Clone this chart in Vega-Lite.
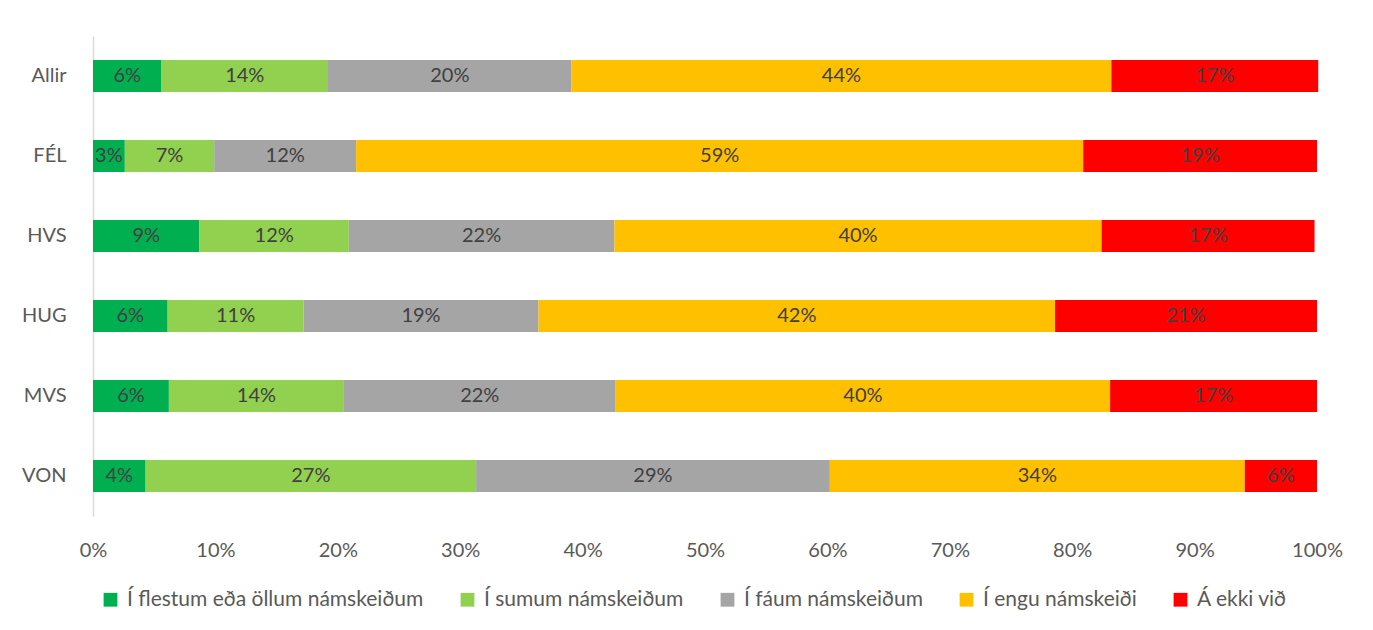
{
  "$schema": "https://vega.github.io/schema/vega-lite/v6.json",
  "width": 1224,
  "height": 480,
  "autosize": {"type": "none"},
  "padding": {"left": 93, "top": 36, "right": 56, "bottom": 114},
  "background": "white",
  "config": {
    "font": "Lato",
    "view": {"stroke": null}
  },
  "data": {
    "values": [
      {"group": "Allir", "cat": "Í flestum eða öllum námskeiðum", "k": 1, "v": 0.056},
      {"group": "Allir", "cat": "Í sumum námskeiðum", "k": 2, "v": 0.136},
      {"group": "Allir", "cat": "Í fáum námskeiðum", "k": 3, "v": 0.199},
      {"group": "Allir", "cat": "Í engu námskeiði", "k": 4, "v": 0.441},
      {"group": "Allir", "cat": "Á ekki við", "k": 5, "v": 0.169},
      {"group": "FÉL", "cat": "Í flestum eða öllum námskeiðum", "k": 1, "v": 0.026},
      {"group": "FÉL", "cat": "Í sumum námskeiðum", "k": 2, "v": 0.073},
      {"group": "FÉL", "cat": "Í fáum námskeiðum", "k": 3, "v": 0.116},
      {"group": "FÉL", "cat": "Í engu námskeiði", "k": 4, "v": 0.594},
      {"group": "FÉL", "cat": "Á ekki við", "k": 5, "v": 0.191},
      {"group": "HVS", "cat": "Í flestum eða öllum námskeiðum", "k": 1, "v": 0.087},
      {"group": "HVS", "cat": "Í sumum námskeiðum", "k": 2, "v": 0.122},
      {"group": "HVS", "cat": "Í fáum námskeiðum", "k": 3, "v": 0.217},
      {"group": "HVS", "cat": "Í engu námskeiði", "k": 4, "v": 0.398},
      {"group": "HVS", "cat": "Á ekki við", "k": 5, "v": 0.174},
      {"group": "HUG", "cat": "Í flestum eða öllum námskeiðum", "k": 1, "v": 0.061},
      {"group": "HUG", "cat": "Í sumum námskeiðum", "k": 2, "v": 0.111},
      {"group": "HUG", "cat": "Í fáum námskeiðum", "k": 3, "v": 0.192},
      {"group": "HUG", "cat": "Í engu námskeiði", "k": 4, "v": 0.422},
      {"group": "HUG", "cat": "Á ekki við", "k": 5, "v": 0.214},
      {"group": "MVS", "cat": "Í flestum eða öllum námskeiðum", "k": 1, "v": 0.062},
      {"group": "MVS", "cat": "Í sumum námskeiðum", "k": 2, "v": 0.143},
      {"group": "MVS", "cat": "Í fáum námskeiðum", "k": 3, "v": 0.222},
      {"group": "MVS", "cat": "Í engu námskeiði", "k": 4, "v": 0.404},
      {"group": "MVS", "cat": "Á ekki við", "k": 5, "v": 0.169},
      {"group": "VON", "cat": "Í flestum eða öllum námskeiðum", "k": 1, "v": 0.043},
      {"group": "VON", "cat": "Í sumum námskeiðum", "k": 2, "v": 0.270},
      {"group": "VON", "cat": "Í fáum námskeiðum", "k": 3, "v": 0.289},
      {"group": "VON", "cat": "Í engu námskeiði", "k": 4, "v": 0.339},
      {"group": "VON", "cat": "Á ekki við", "k": 5, "v": 0.059}
    ]
  },
  "transform": [
    {"stack": "v", "groupby": ["group"], "sort": [{"field": "k"}], "as": ["x0", "x1"]},
    {"calculate": "(datum.x0 + datum.x1) / 2", "as": "mid"}
  ],
  "encoding": {
    "y": {
      "field": "group",
      "type": "nominal",
      "sort": ["Allir", "FÉL", "HVS", "HUG", "MVS", "VON"],
      "scale": {"paddingInner": 0.6, "paddingOuter": 0.3},
      "axis": {
        "title": null,
        "ticks": false,
        "domainColor": "#d9d9d9",
        "domainWidth": 1.5,
        "labelFontSize": 20,
        "labelColor": "#595959",
        "labelPadding": 27
      }
    }
  },
  "layer": [
    {
      "mark": {"type": "bar"},
      "encoding": {
        "x": {
          "field": "x0",
          "type": "quantitative",
          "scale": {"domain": [0, 1], "nice": false},
          "axis": {
            "title": null,
            "format": ".0%",
            "values": [0, 0.1, 0.2, 0.3, 0.4, 0.5, 0.6, 0.7, 0.8, 0.9, 1],
            "grid": false,
            "domain": false,
            "ticks": false,
            "labelFlush": false,
            "labelFontSize": 20,
            "labelColor": "#595959",
            "labelPadding": 24
          }
        },
        "x2": {"field": "x1"},
        "color": {
          "field": "cat",
          "type": "nominal",
          "scale": {
            "domain": ["Í flestum eða öllum námskeiðum", "Í sumum námskeiðum", "Í fáum námskeiðum", "Í engu námskeiði", "Á ekki við"],
            "range": ["#00b050", "#92d050", "#a5a5a5", "#ffc000", "#ff0000"]
          },
          "legend": {
            "title": null,
            "orient": "none",
            "direction": "horizontal",
            "legendX": 7,
            "legendY": 553,
            "symbolType": "square",
            "symbolSize": 190,
            "symbolStrokeWidth": 0,
            "labelFontSize": 21,
            "labelColor": "#595959",
            "labelOffset": 6,
            "columnPadding": 33,
            "labelLimit": 400
          }
        }
      }
    },
    {
      "mark": {"type": "text", "fontSize": 20, "color": "#404040", "baseline": "middle", "align": "center"},
      "encoding": {
        "x": {"field": "mid", "type": "quantitative"},
        "text": {"field": "v", "type": "quantitative", "format": ".0%"}
      }
    }
  ]
}
